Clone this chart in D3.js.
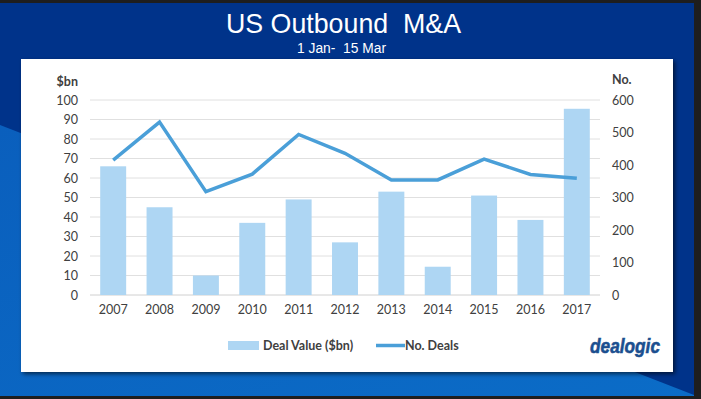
<!DOCTYPE html>
<html><head><meta charset="utf-8">
<script src="https://cdn.jsdelivr.net/npm/d3@7"></script>
<style>
html,body{margin:0;padding:0;background:#1e1e1e;}
svg{display:block;}
text{white-space:pre;}
</style></head>
<body>
<svg id="chart" width="701" height="399"></svg>
<script>
const years = ["2007","2008","2009","2010","2011","2012","2013","2014","2015","2016","2017"];
const dealValue = [66, 45, 10, 37, 49, 27, 53, 14.5, 51, 38.5, 95.5];
const noDeals = [415, 532, 318, 372, 494, 436, 354, 354, 418, 371, 359];
const leftTicks = [0,10,20,30,40,50,60,70,80,90,100];
const rightTicks = [0,100,200,300,400,500,600];
const titleText = "US Outbound  M&A";
const subtitleText = "1 Jan-  15 Mar";
const legendLabels = ["Deal Value ($bn)", "No. Deals"];

const svg = d3.select("#chart");
const defs = svg.append("defs");
const g1 = defs.append("linearGradient").attr("id","lg").attr("x1","0").attr("y1","0").attr("x2","1").attr("y2","1");
g1.append("stop").attr("offset","0").attr("stop-color","#0a5fbd");
g1.append("stop").attr("offset","1").attr("stop-color","#0b6cc7");
const sh = defs.append("filter").attr("id","shadow").attr("x","-5%").attr("y","-5%").attr("width","110%").attr("height","115%");
sh.append("feDropShadow").attr("dx",2).attr("dy",2).attr("stdDeviation",2).attr("flood-color","#000").attr("flood-opacity",0.6);

// background slide
svg.append("rect").attr("x",0).attr("y",3).attr("width",694).attr("height",393).attr("fill","#00338a");
svg.append("path").attr("d","M0,125 L694,395 L694,396 L0,396 Z").attr("fill","url(#lg)");

// white panel
svg.append("rect").attr("x",21).attr("y",59).attr("width",652).attr("height",313)
  .attr("fill","#ffffff").attr("filter","url(#shadow)");

// titles
svg.append("text").attr("x",226).attr("y",33)
  .attr("font-family","Liberation Sans, Arial, sans-serif").attr("font-size",28)
  .attr("textLength",235).attr("lengthAdjust","spacingAndGlyphs")
  .attr("fill","#ffffff").text(titleText);
svg.append("text").attr("x",297).attr("y",53)
  .attr("font-family","Liberation Sans, Arial, sans-serif").attr("font-size",15.5)
  .attr("textLength",89).attr("lengthAdjust","spacingAndGlyphs")
  .attr("fill","#ffffff").text(subtitleText);

// scales
const x = d3.scaleBand().domain(years).range([90,600]).paddingInner(0.44).paddingOuter(0.22);
const yL = d3.scaleLinear().domain([0,100]).range([295,100]);
const yR = d3.scaleLinear().domain([0,600]).range([295,100]);

const font = "Lato, 'Open Sans', sans-serif";
const txtColor = "#404040";

// gridlines
svg.append("g").selectAll("line").data(leftTicks).join("line")
  .attr("x1",90).attr("x2",600).attr("y1",d=>yL(d)).attr("y2",d=>yL(d))
  .attr("stroke",d=>d===0?"#d0d0d0":"#e0e0e0").attr("stroke-width",1);

// left axis
const axL = svg.append("g").attr("transform","translate(90,0)")
  .call(d3.axisLeft(yL).tickValues(leftTicks).tickSize(0).tickPadding(12));
axL.select(".domain").remove();
axL.selectAll("text").attr("font-family",font).attr("font-size",12.5).attr("fill",txtColor);

// right axis
const axR = svg.append("g").attr("transform","translate(600,0)")
  .call(d3.axisRight(yR).tickValues(rightTicks).tickSize(0).tickPadding(12));
axR.select(".domain").remove();
axR.selectAll("text").attr("font-family",font).attr("font-size",12.5).attr("fill",txtColor);

// x axis
const axB = svg.append("g").attr("transform","translate(0,295)")
  .call(d3.axisBottom(x).tickSize(0).tickPadding(10));
axB.select(".domain").remove();
axB.selectAll("text").attr("font-family",font).attr("font-size",12.5).attr("fill",txtColor);

// axis titles
svg.append("text").attr("x",78).attr("y",86).attr("text-anchor","end")
  .attr("font-family",font).attr("font-weight","bold").attr("font-size",12.5).attr("fill",txtColor).text("$bn");
svg.append("text").attr("x",612).attr("y",84)
  .attr("font-family",font).attr("font-weight","bold").attr("font-size",12.5).attr("fill",txtColor).text("No.");

// bars
svg.append("g").selectAll("rect").data(years).join("rect")
  .attr("x",d=>x(d)).attr("width",x.bandwidth())
  .attr("y",(d,i)=>yL(dealValue[i])).attr("height",(d,i)=>yL(0)-yL(dealValue[i]))
  .attr("fill","#aed6f3");

// line
const line = d3.line().x((d,i)=>x(years[i])+x.bandwidth()/2).y(d=>yR(d));
svg.append("path").datum(noDeals).attr("d",line).attr("fill","none")
  .attr("stroke","#4a9fd8").attr("stroke-width",3.5).attr("stroke-linejoin","miter");

// legend
svg.append("rect").attr("x",228).attr("y",341).attr("width",31).attr("height",9).attr("fill","#aed6f3");
svg.append("text").attr("x",263).attr("y",350).attr("font-family",font).attr("font-weight","bold")
  .attr("font-size",12.5).attr("fill",txtColor).text(legendLabels[0]);
svg.append("line").attr("x1",376).attr("x2",405).attr("y1",345.5).attr("y2",345.5)
  .attr("stroke","#4a9fd8").attr("stroke-width",3.5);
svg.append("text").attr("x",405).attr("y",350).attr("font-family",font).attr("font-weight","bold")
  .attr("font-size",12.5).attr("fill",txtColor).text(legendLabels[1]);

// logo
svg.append("text").attr("x",590).attr("y",353)
  .attr("font-family","Liberation Sans, Arial, sans-serif").attr("font-weight","bold")
  .attr("font-style","italic").attr("font-size",21)
  .attr("textLength",70).attr("lengthAdjust","spacingAndGlyphs")
  .attr("stroke","#1b4f8f").attr("stroke-width",0.6)
  .attr("fill","#1b4f8f").text("dealogic");
</script>
</body></html>
